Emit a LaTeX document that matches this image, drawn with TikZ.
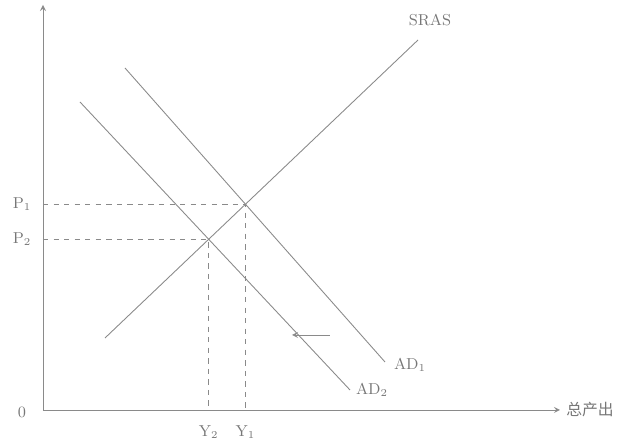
\documentclass[tikz,border=0pt]{standalone}
\usepackage{fontspec}
\newfontfamily\cjk{Noto Sans CJK SC}
\usepackage{tikz}
\usetikzlibrary{intersections}
\definecolor{scanGray}{HTML}{8A8A8A}
\definecolor{scanText}{HTML}{777777}

\begin{document}
\begin{tikzpicture}[line width=0.5pt, draw=scanGray, text=scanText]
            \useasboundingbox (-0.86,-0.7) rectangle (12.0,8.2);
            \coordinate (O) at (0,0);
            \coordinate (ytop) at (0,8.1);
            \coordinate (xend) at (10.34,0);
            \draw[scanGray, -stealth] (O) -- (ytop);
            \draw[scanGray, -stealth] (O) -- (xend);
            \node[anchor=west, font=\cjk\small] (xlab) at (xend) {总产出};
            \node[font=\small] (zero) at (-0.42,-0.04) {0};
            % curves
            \draw[scanGray, name path=sras] (1.24,1.44) -- (7.5,7.4);
            \draw[scanGray, name path=adone] (1.64,6.84) -- (6.84,0.96);
            \draw[scanGray, name path=adtwo] (0.74,6.16) -- (6.14,0.4);
            \path[name intersections={of=sras and adone, by=E1}];
            \path[name intersections={of=sras and adtwo, by=E2}];
            \node[font=\small] (sraslab) at (7.74,7.8) {SRAS};
            \node[font=\small] (adonelab) at (7.34,0.9) {AD$_1$};
            \node[font=\small] (adtwolab) at (6.58,0.4) {AD$_2$};
            % dashed guides
            \node[font=\small] (P1) at (-0.42,0 |- E1) {P$_1$};
            \node[font=\small] (P2) at (-0.42,0 |- E2) {P$_2$};
            \node[font=\small] (Y1) at (E1 |- 0,-0.44) {Y$_1$};
            \node[font=\small] (Y2) at (E2 |- 0,-0.44) {Y$_2$};
            \draw[scanGray, dashed] (0,0 |- E1) -- (E1) -- (E1 |- O);
            \draw[scanGray, dashed] (0,0 |- E2) -- (E2) -- (E2 |- O);
            \coordinate (shiftA) at (5.74,1.5);
            \coordinate (shiftB) at (4.98,1.5);
            \draw[scanGray, -stealth] (shiftA) -- (shiftB);
        \end{tikzpicture}
\end{document}
